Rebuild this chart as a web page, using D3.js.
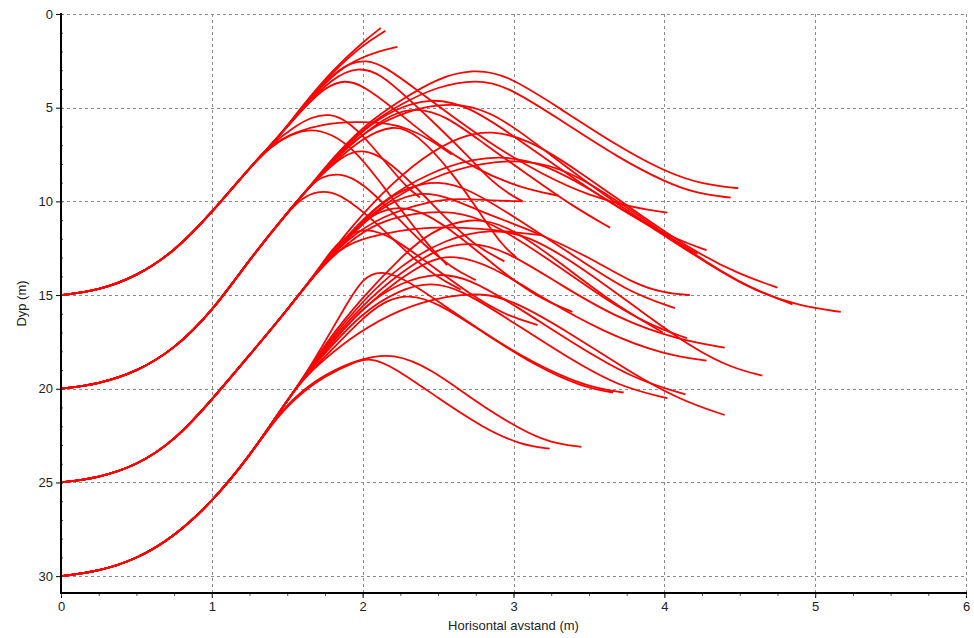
<!DOCTYPE html>
<html>
<head>
<meta charset="utf-8">
<script src="https://cdn.jsdelivr.net/npm/d3@7"></script>
<style>
  body { margin: 0; background: #fff; }
  svg { display: block; font-family: "Liberation Sans", Arial, sans-serif; }
</style>
</head>
<body>
<svg id="chart" width="974" height="638"></svg>
<script>
// shared rise paths for each release depth [x, depth]
const rise15 = [[0,15],[0.25,14.75],[0.5,14.0],[0.75,12.7],[1.0,10.6],[1.25,8.2],[1.45,6.5]];
const rise20 = [[0,20],[0.25,19.75],[0.5,19.1],[0.75,17.9],[1.0,15.9],[1.25,13.1],[1.5,10.6],[1.65,9.2]];
const rise25 = [[0,25],[0.25,24.75],[0.5,24.1],[0.75,22.8],[1.0,20.6],[1.25,18.2],[1.5,15.8],[1.7,13.7]];
const rise30 = [[0,30],[0.25,29.75],[0.5,29.1],[0.75,27.9],[1.0,26.05],[1.25,23.6],[1.45,21.2],[1.6,19.5]];

// branches after they leave the shared rise
const branches15 = [
  [[1.6,4.9],[1.8,3.0],[2.0,1.5],[2.12,0.75]],
  [[1.6,4.95],[1.8,3.1],[2.0,1.65],[2.15,0.9]],
  [[1.6,5.0],[1.8,3.25],[1.95,2.45],[2.1,2.0],[2.23,1.76]],
  [[1.6,5.0],[1.8,3.2],[1.92,2.6],[2.02,2.45],[2.15,2.8],[2.35,4.0],[2.6,5.5],[2.9,7.2],[3.2,8.6],[3.5,9.7],[3.8,10.35],[4.02,10.6]],
  [[1.6,5.05],[1.8,3.4],[1.97,2.8],[2.12,3.2],[2.3,4.5],[2.5,6.0],[2.7,7.6],[2.85,8.9],[2.97,9.6],[3.06,10.0]],
  [[1.6,5.1],[1.75,3.9],[1.88,3.5],[2.0,3.8],[2.2,5.0],[2.45,6.7],[2.75,8.3],[3.05,9.3],[3.3,9.7]],
  [[1.4,6.9],[1.55,6.0],[1.66,5.5],[1.78,5.3],[1.9,5.7],[2.05,6.9],[2.2,8.4],[2.3,9.3],[2.38,9.8]],
  [[1.4,6.95],[1.55,6.3],[1.75,5.85],[1.95,5.75],[2.15,5.8],[2.3,6.1],[2.45,6.7],[2.59,7.5]],
  [[1.4,7.0],[1.52,6.45],[1.65,6.1],[1.8,6.4],[1.95,7.3],[2.1,8.8],[2.25,10.4],[2.4,12.0],[2.5,12.9],[2.56,13.4]]
];
const branches20 = [
  [[1.8,7.7],[2.0,6.0],[2.25,4.6],[2.5,3.4],[2.73,2.95],[2.95,3.2],[3.3,5.0],[3.7,7.1],[4.0,8.4],[4.25,9.1],[4.49,9.3]],
  [[1.8,7.75],[2.0,6.1],[2.25,4.8],[2.5,3.85],[2.75,3.5],[2.95,3.8],[3.3,5.6],[3.7,7.7],[4.0,8.95],[4.22,9.6],[4.44,9.8]],
  [[1.8,7.8],[2.0,6.2],[2.2,5.1],[2.45,4.45],[2.7,4.9],[3.0,6.5],[3.4,8.8],[3.8,10.9],[4.1,12.1],[4.28,12.6]],
  [[1.8,7.85],[2.0,6.3],[2.3,5.1],[2.6,4.7],[2.85,5.2],[3.1,6.6],[3.5,9.1],[3.9,11.3],[4.22,12.8]],
  [[1.8,7.9],[2.0,6.4],[2.2,5.3],[2.35,5.0],[2.55,5.4],[2.8,6.9],[3.1,8.6],[3.4,10.3],[3.64,11.4]],
  [[1.8,8.0],[2.0,6.6],[2.2,5.9],[2.35,6.3],[2.6,8.5],[2.8,10.9],[2.93,12.4],[3.02,13.0]],
  [[1.75,8.4],[1.88,7.5],[2.0,7.2],[2.15,7.7],[2.35,9.2],[2.55,10.9],[2.75,12.4],[2.94,13.2]],
  [[1.72,8.7],[1.85,8.45],[2.0,9.0],[2.2,10.6],[2.4,12.3],[2.6,13.6],[2.75,14.2]],
  [[1.6,9.8],[1.7,9.45],[1.8,9.5],[1.9,9.9],[2.1,11.2],[2.3,12.8],[2.5,14.1],[2.65,14.7]]
];
const branches25 = [
  [[1.9,11.8],[2.12,10.0],[2.45,8.4],[2.75,7.7],[2.95,7.6],[3.2,8.0],[3.5,9.3],[3.9,11.3],[4.3,13.4],[4.6,14.8],[4.9,15.6],[5.17,15.9]],
  [[1.9,11.9],[2.12,10.2],[2.45,8.7],[2.8,7.9],[3.1,7.8],[3.35,8.3],[3.7,10.0],[4.1,12.3],[4.5,14.4],[4.85,15.5]],
  [[1.9,11.6],[2.12,9.6],[2.4,7.6],[2.65,6.5],[2.85,6.2],[3.1,6.7],[3.4,8.2],[3.8,10.5],[4.2,12.7],[4.5,13.9],[4.75,14.6]],
  [[1.9,12.0],[2.12,10.8],[2.45,9.95],[2.65,9.85],[2.85,9.95],[3.06,10.0]],
  [[1.9,12.0],[2.1,10.4],[2.35,9.45],[2.55,9.7],[2.8,10.6],[3.2,11.8],[3.55,13.2],[3.8,14.4],[4.0,14.9],[4.17,15.0]],
  [[1.9,11.9],[2.1,10.2],[2.3,9.2],[2.5,8.9],[2.7,9.3],[3.0,10.8],[3.4,12.9],[3.75,14.8],[4.07,15.7]],
  [[1.85,12.4],[2.0,11.0],[2.2,10.2],[2.4,10.5],[2.65,11.9],[2.9,13.6],[3.15,15.1],[3.39,15.9]],
  [[1.8,12.5],[1.9,11.8],[2.02,11.4],[2.2,11.9],[2.45,13.4],[2.7,14.9],[2.95,16.1],[3.16,16.6]],
  [[1.85,12.5],[2.0,12.0],[2.12,11.75],[2.33,11.45],[2.56,11.35],[2.78,11.45],[3.0,11.65],[3.18,11.8]],
  [[1.9,12.2],[2.1,11.1],[2.35,10.6],[2.6,10.5],[2.85,11.1],[3.2,12.9],[3.6,15.2],[3.9,16.6],[4.15,17.3]]
];
const branches30 = [
  [[1.75,17.7],[2.0,15.3],[2.25,13.4],[2.55,12.0],[2.85,11.45],[3.1,11.8],[3.45,13.5],[3.85,15.9],[4.2,17.9],[4.45,18.9],[4.65,19.3]],
  [[1.75,17.8],[2.0,15.5],[2.25,13.8],[2.5,12.5],[2.7,12.15],[2.95,12.6],[3.3,14.4],[3.7,16.3],[4.1,17.4],[4.4,17.8]],
  [[1.75,17.9],[2.0,15.7],[2.25,14.1],[2.45,13.1],[2.6,12.85],[2.85,13.4],[3.2,15.2],[3.6,17.0],[4.0,18.2],[4.28,18.5]],
  [[1.75,18.0],[2.0,15.6],[2.25,14.3],[2.5,13.8],[2.7,14.1],[3.0,15.5],[3.4,17.6],[3.8,19.5],[4.14,20.3]],
  [[1.75,18.1],[2.0,15.9],[2.25,14.7],[2.45,14.3],[2.65,14.7],[2.95,16.2],[3.35,18.3],[3.7,19.9],[4.02,20.5]],
  [[1.72,17.9],[1.9,15.4],[2.0,14.1],[2.12,13.65],[2.3,14.2],[2.6,15.9],[2.95,17.8],[3.3,19.3],[3.55,20.0],[3.73,20.2]],
  [[1.75,18.3],[2.0,16.2],[2.15,15.3],[2.3,14.95],[2.5,15.4],[2.8,17.0],[3.15,18.8],[3.45,19.9],[3.66,20.2]],
  [[1.75,18.4],[1.95,17.1],[2.25,15.7],[2.58,15.0],[2.8,14.9],[3.0,15.3],[3.35,16.9],[3.75,19.0],[4.1,20.6],[4.4,21.4]],
  [[1.4,21.8],[1.55,20.4],[1.75,19.2],[2.0,18.35],[2.2,18.1],[2.45,18.9],[2.75,20.7],[3.05,22.2],[3.25,22.9],[3.45,23.1]],
  [[1.4,21.85],[1.55,20.5],[1.75,19.3],[1.95,18.55],[2.05,18.35],[2.2,18.8],[2.5,20.5],[2.8,22.1],[3.05,23.0],[3.24,23.2]],
  [[1.75,17.6],[2.0,15.1],[2.25,13.0],[2.45,11.6],[2.7,10.85],[2.95,11.2],[3.3,13.2],[3.65,15.4],[3.99,17.0]]
];

const xTicks = [0, 1, 2, 3, 4, 5, 6];
const yTicks = [0, 5, 10, 15, 20, 25, 30];

const svg = d3.select("#chart");
const width = 974;
const height = 638;
const plotLeft = 61, plotRight = 966, plotTop = 14, plotBottom = 593;

const x = d3.scaleLinear().domain([0, 6]).range([plotLeft, plotRight]);
const y = d3.scaleLinear().domain([0, 30.9]).range([plotTop, plotBottom]);

svg.append("rect").attr("width", width).attr("height", height).attr("fill", "#fff");

// dashed grid, incl. top and right frame
const grid = svg.append("g").attr("stroke", "#8a8a8a").attr("stroke-width", 1).attr("stroke-dasharray", "3,3").attr("shape-rendering", "crispEdges");
xTicks.filter(d => d > 0).forEach(d => {
  grid.append("line").attr("x1", Math.round(x(d)) + 0.5).attr("x2", Math.round(x(d)) + 0.5).attr("y1", plotTop).attr("y2", plotBottom);
});
yTicks.forEach(d => {
  grid.append("line").attr("x1", plotLeft).attr("x2", plotRight).attr("y1", Math.round(y(d)) + 0.5).attr("y2", Math.round(y(d)) + 0.5);
});

// trajectories
const line = d3.line().x(d => x(d[0])).y(d => y(d[1])).curve(d3.curveBasis);
const groups = [[rise15, branches15], [rise20, branches20], [rise25, branches25], [rise30, branches30]];
const plumes = svg.append("g").attr("fill", "none").attr("stroke", "#ff0000").attr("stroke-width", 1.8).attr("stroke-linejoin", "round");
groups.forEach(([rise, branches]) => {
  branches.forEach(b => {
    const pts = rise.filter(p => p[0] < b[0][0]).concat(b);
    plumes.append("path").attr("d", line(pts));
  });
});

// axes
const xAxis = svg.append("g").attr("transform", `translate(0,${plotBottom})`)
  .call(d3.axisBottom(x).tickValues(xTicks).tickFormat(d3.format("d")).tickSize(5).tickPadding(4));
const xMinor = svg.append("g").attr("transform", `translate(0,${plotBottom})`)
  .call(d3.axisBottom(x).tickValues(d3.range(0, 6.01, 0.25)).tickFormat("").tickSize(3));
const yAxis = svg.append("g").attr("transform", `translate(${plotLeft},0)`)
  .call(d3.axisLeft(y).tickValues(yTicks).tickFormat(d3.format("d")).tickSize(5).tickPadding(3));
const yMinor = svg.append("g").attr("transform", `translate(${plotLeft},0)`)
  .call(d3.axisRight(y).tickValues(d3.range(0, 31, 1)).tickFormat("").tickSize(2));

[xAxis, yAxis].forEach(g => {
  g.select(".domain").remove();
  g.selectAll(".tick line").attr("stroke", "#000");
  g.selectAll(".tick text").attr("fill", "#222").attr("font-size", 13).attr("font-family", "'Liberation Sans', Arial, sans-serif");
});
[xMinor, yMinor].forEach(g => {
  g.select(".domain").remove();
  g.selectAll(".tick line").attr("stroke", "#555");
});

svg.append("line").attr("x1", plotLeft).attr("x2", plotLeft).attr("y1", plotTop - 1).attr("y2", plotBottom + 1).attr("stroke", "#000").attr("stroke-width", 2);
svg.append("line").attr("x1", plotLeft - 1).attr("x2", plotRight + 1).attr("y1", plotBottom).attr("y2", plotBottom).attr("stroke", "#000").attr("stroke-width", 2);

// axis titles
svg.append("text").attr("x", (plotLeft + plotRight) / 2).attr("y", 630).attr("text-anchor", "middle")
  .attr("font-size", 13).attr("fill", "#222").text("Horisontal avstand (m)");
svg.append("text").attr("transform", `translate(26,${(plotTop + plotBottom) / 2}) rotate(-90)`).attr("text-anchor", "middle")
  .attr("font-size", 13).attr("fill", "#222").text("Dyp (m)");
</script>
</body>
</html>
